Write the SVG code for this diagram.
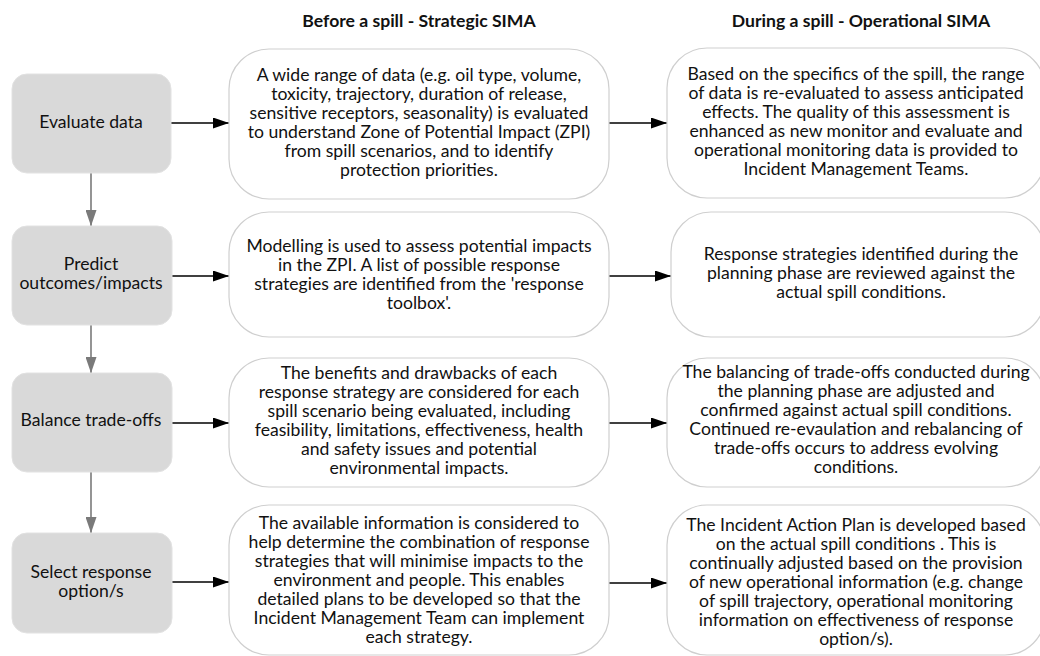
<svg xmlns="http://www.w3.org/2000/svg" width="1040" height="656" viewBox="0 0 1040 656">
<defs>
<style>
text{font-family:Lato,"Open Sans","Liberation Sans",sans-serif;font-size:17.6px;fill:#111;text-anchor:middle}
.h{font-weight:bold}
.step{fill:#d9d9d9;stroke:#e2e2e2;stroke-width:1}
.box{fill:#fff;stroke:#cfcfcf;stroke-width:1.2}
.a{stroke:#000;stroke-width:1.6;fill:none;marker-end:url(#ab)}
.g{stroke:#7a7a7a;stroke-width:1.6;fill:none;marker-end:url(#ag)}
</style>
<marker id="ab" viewBox="0 0 16 11" refX="16" refY="5.5" markerWidth="16" markerHeight="11" markerUnits="userSpaceOnUse" orient="auto"><path d="M0,0L16,5.5L0,11z" fill="#000"/></marker>
<marker id="ag" viewBox="0 0 16 11" refX="16" refY="5.5" markerWidth="16" markerHeight="11" markerUnits="userSpaceOnUse" orient="auto"><path d="M0,0L16,5.5L0,11z" fill="#7a7a7a"/></marker>
</defs>
<rect width="1040" height="656" fill="#fff"/>
<g id="headers">
<text class="h" x="419" y="27">Before a spill - Strategic SIMA</text>
<text class="h" x="861" y="27">During a spill - Operational SIMA</text>
</g>
<g id="connectors">
<path class="g" d="M91,173V226"/>
<path class="g" d="M91,325V373"/>
<path class="g" d="M91,472V533"/>
<path class="a" d="M171,123H229"/>
<path class="a" d="M609,123H667"/>
<path class="a" d="M172,276H229"/>
<path class="a" d="M609,276H671"/>
<path class="a" d="M172,423H229"/>
<path class="a" d="M609,423H667"/>
<path class="a" d="M172,582H229"/>
<path class="a" d="M609,583H667"/>
</g>
<g id="evaluate">
<rect class="step" x="12" y="74" width="159" height="99" rx="15"/>
<text x="91" y="128">Evaluate data</text>
</g>
<g id="predict">
<rect class="step" x="12" y="226" width="160" height="99" rx="15"/>
<text x="91" y="270">Predict</text>
<text x="91" y="289">outcomes/impacts</text>
</g>
<g id="balance">
<rect class="step" x="12" y="373" width="160" height="99" rx="15"/>
<text x="91" y="426">Balance trade-offs</text>
</g>
<g id="select">
<rect class="step" x="12" y="533" width="160" height="100" rx="15"/>
<text x="91" y="578">Select response</text>
<text x="91" y="597">option/s</text>
</g>
<g id="strategic1">
<rect class="box" x="229" y="49" width="380" height="150" rx="40"/>
<text x="419" y="81">A wide range of data (e.g. oil type, volume,</text>
<text x="419" y="100">toxicity, trajectory, duration of release,</text>
<text x="419" y="119">sensitive receptors, seasonality) is evaluated</text>
<text x="419" y="138">to understand Zone of Potential Impact (ZPI)</text>
<text x="419" y="157">from spill scenarios, and to identify</text>
<text x="419" y="176">protection priorities.</text>
</g>
<g id="strategic2">
<rect class="box" x="229" y="212" width="380" height="125" rx="40"/>
<text x="419" y="252">Modelling is used to assess potential impacts</text>
<text x="419" y="271">in the ZPI. A list of possible response</text>
<text x="419" y="290">strategies are identified from the 'response</text>
<text x="419" y="309">toolbox'.</text>
</g>
<g id="strategic3">
<rect class="box" x="229" y="358" width="380" height="129" rx="40"/>
<text x="419" y="379">The benefits and drawbacks of each</text>
<text x="419" y="398">response strategy are considered for each</text>
<text x="419" y="417">spill scenario being evaluated, including</text>
<text x="419" y="436">feasibility, limitations, effectiveness, health</text>
<text x="419" y="455">and safety issues and potential</text>
<text x="419" y="474">environmental impacts.</text>
</g>
<g id="strategic4">
<rect class="box" x="229" y="505" width="380" height="150" rx="40"/>
<text x="419" y="529">The available information is considered to</text>
<text x="419" y="548">help determine the combination of response</text>
<text x="419" y="567">strategies that will minimise impacts to the</text>
<text x="419" y="586">environment and people. This enables</text>
<text x="419" y="605">detailed plans to be developed so that the</text>
<text x="419" y="624">Incident Management Team can implement</text>
<text x="419" y="643">each strategy.</text>
</g>
<g id="operational1">
<rect class="box" x="667" y="48" width="378" height="150" rx="40"/>
<text x="856" y="80">Based on the specifics of the spill, the range</text>
<text x="856" y="99">of data is re-evaluated to assess anticipated</text>
<text x="856" y="118">effects. The quality of this assessment is</text>
<text x="856" y="137">enhanced as new monitor and evaluate and</text>
<text x="856" y="156">operational monitoring data is provided to</text>
<text x="856" y="175">Incident Management Teams.</text>
</g>
<g id="operational2">
<rect class="box" x="671" y="212" width="374" height="125" rx="40"/>
<text x="861" y="260">Response strategies identified during the</text>
<text x="861" y="279">planning phase are reviewed against the</text>
<text x="861" y="298">actual spill conditions.</text>
</g>
<g id="operational3">
<rect class="box" x="667" y="358" width="378" height="129" rx="40"/>
<text x="856" y="378">The balancing of trade-offs conducted during</text>
<text x="856" y="397">the planning phase are adjusted and</text>
<text x="856" y="416">confirmed against actual spill conditions.</text>
<text x="856" y="435">Continued re-evaulation and rebalancing of</text>
<text x="856" y="454">trade-offs occurs to address evolving</text>
<text x="856" y="473">conditions.</text>
</g>
<g id="operational4">
<rect class="box" x="667" y="505" width="378" height="150" rx="40"/>
<text x="856" y="531">The Incident Action Plan is developed based</text>
<text x="856" y="550">on the actual spill conditions . This is</text>
<text x="856" y="569">continually adjusted based on the provision</text>
<text x="856" y="588">of new operational information (e.g. change</text>
<text x="856" y="607">of spill trajectory, operational monitoring</text>
<text x="856" y="626">information on effectiveness of response</text>
<text x="856" y="645">option/s).</text>
</g>
</svg>
